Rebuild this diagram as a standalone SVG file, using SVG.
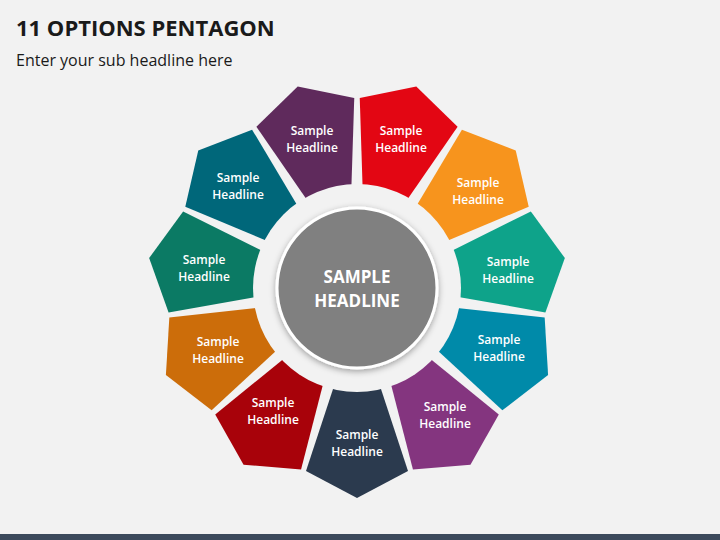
<svg xmlns="http://www.w3.org/2000/svg" width="720" height="540" viewBox="0 0 720 540">
<defs>
<style>
.t{font-family:"Open Sans","Liberation Sans",sans-serif;font-weight:600;font-size:12px;fill:#fff;text-anchor:middle}
.p{stroke:none}
</style>
<polygon id="pent" points="0,210 51,183 22,95 -22,95 -51,183"/>
<filter id="sh" x="-20%" y="-20%" width="140%" height="140%"><feDropShadow dx="0" dy="2" stdDeviation="3" flood-opacity="0.35"/></filter>
</defs>
<rect width="720" height="540" fill="#f2f2f2"/>
<rect y="534" width="720" height="6" fill="#3c4a5c"/>
<text x="16" y="36" font-family="Open Sans, Liberation Sans, sans-serif" font-weight="700" font-size="22" fill="#1a1a1a">11 OPTIONS PENTAGON</text>
<text x="16" y="66" font-family="Open Sans, Liberation Sans, sans-serif" font-size="16" fill="#1a1a1a">Enter your sub headline here</text>
<g id="nodes" transform="translate(357,288)">
<g id="n1"><use href="#pent" fill="#e30613" transform="rotate(-163.6)"/></g>
<g id="n2"><use href="#pent" fill="#f7941d" transform="rotate(-130.9)"/></g>
<g id="n3"><use href="#pent" fill="#0ea38a" transform="rotate(-98.2)"/></g>
<g id="n4"><use href="#pent" fill="#008aa9" transform="rotate(-65.5)"/></g>
<g id="n5"><use href="#pent" fill="#84357f" transform="rotate(-32.7)"/></g>
<g id="n6"><use href="#pent" fill="#2b3a4e" transform="rotate(0)"/></g>
<g id="n7"><use href="#pent" fill="#a8020a" transform="rotate(32.7)"/></g>
<g id="n8"><use href="#pent" fill="#cc6d0a" transform="rotate(65.5)"/></g>
<g id="n9"><use href="#pent" fill="#0b7a64" transform="rotate(98.2)"/></g>
<g id="n10"><use href="#pent" fill="#00677a" transform="rotate(130.9)"/></g>
<g id="n11"><use href="#pent" fill="#5f2a5c" transform="rotate(163.6)"/></g>
<circle r="104" fill="#f2f2f2"/>
<g id="center"><circle r="80" fill="#808080" stroke="#fff" stroke-width="3" filter="url(#sh)"/>
<text y="-5" font-family="Open Sans, Liberation Sans, sans-serif" font-weight="700" font-size="17" fill="#fff" text-anchor="middle">SAMPLE</text>
<text y="19" font-family="Open Sans, Liberation Sans, sans-serif" font-weight="700" font-size="17" fill="#fff" text-anchor="middle">HEADLINE</text></g>
</g>
<g id="labels">
<text class="t" x="401" y="135">Sample<tspan x="401" dy="17">Headline</tspan></text>
<text class="t" x="478" y="187">Sample<tspan x="478" dy="17">Headline</tspan></text>
<text class="t" x="508" y="266">Sample<tspan x="508" dy="17">Headline</tspan></text>
<text class="t" x="499" y="344">Sample<tspan x="499" dy="17">Headline</tspan></text>
<text class="t" x="445" y="411">Sample<tspan x="445" dy="17">Headline</tspan></text>
<text class="t" x="357" y="439">Sample<tspan x="357" dy="17">Headline</tspan></text>
<text class="t" x="273" y="407">Sample<tspan x="273" dy="17">Headline</tspan></text>
<text class="t" x="218" y="346">Sample<tspan x="218" dy="17">Headline</tspan></text>
<text class="t" x="204" y="264">Sample<tspan x="204" dy="17">Headline</tspan></text>
<text class="t" x="238" y="182">Sample<tspan x="238" dy="17">Headline</tspan></text>
<text class="t" x="312" y="135">Sample<tspan x="312" dy="17">Headline</tspan></text>
</g>
<g id="connectors"/>
</svg>
